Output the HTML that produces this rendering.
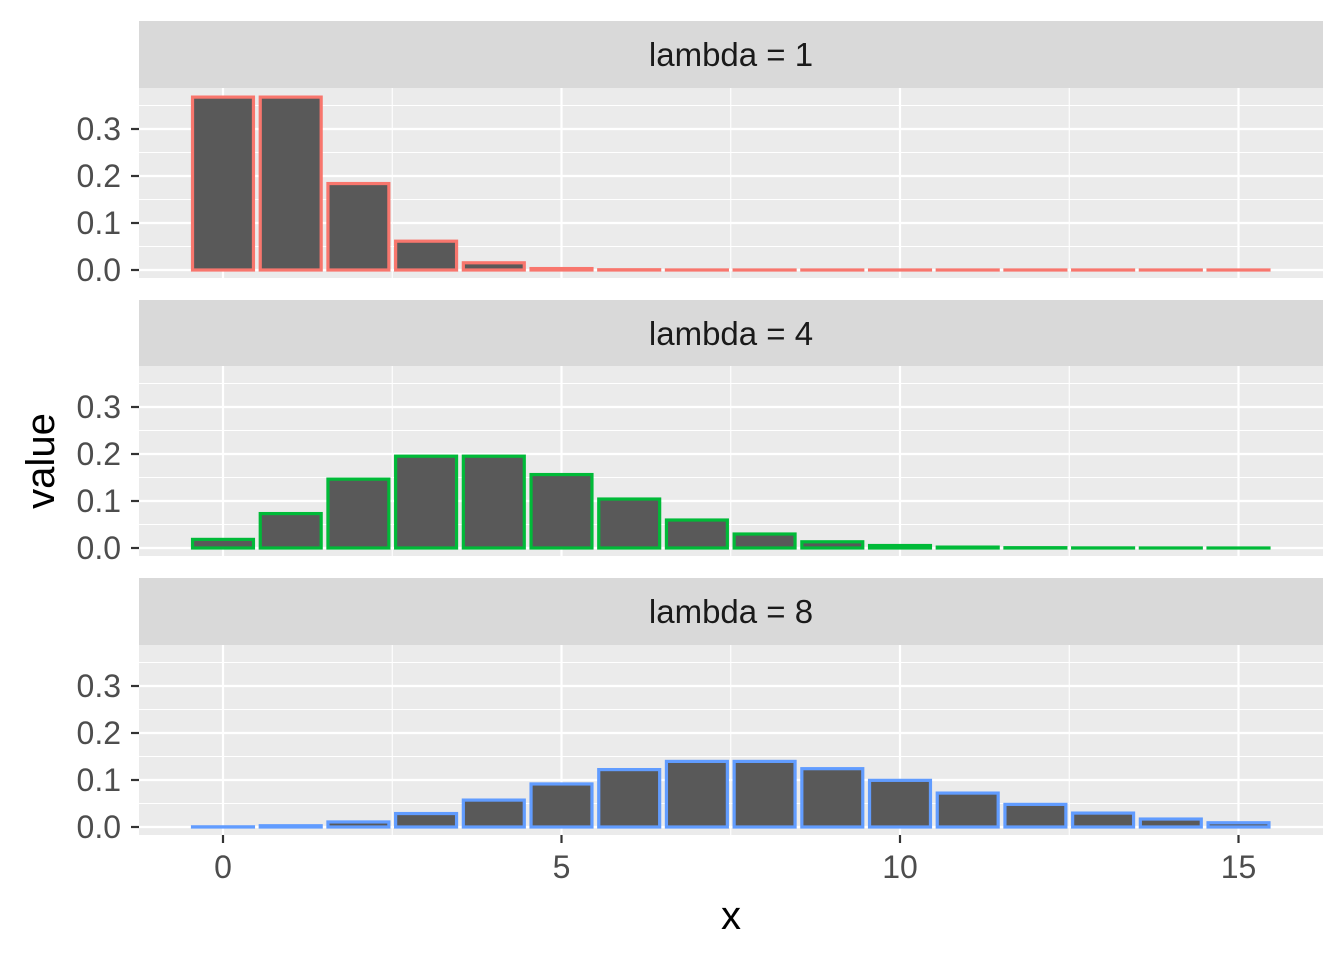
<!DOCTYPE html><html><head><style>body{margin:0;background:#fff}svg{display:block}</style></head><body>
<svg id="s" width="1344" height="960" xmlns="http://www.w3.org/2000/svg" font-family="Liberation Sans, sans-serif"></svg>
<script>
const s=document.getElementById('s');let h='';
const X=v=>223+v*67.7;
const panels=[{l:1,c:'#F8766D',st:21,top:88,z:270},{l:4,c:'#00BA38',st:300,top:366,z:548},{l:8,c:'#619CFF',st:578,top:645,z:827}];
function pois(l,k){let p=Math.exp(-l);for(let i=1;i<=k;i++)p*=l/i;return p;}
for(const P of panels){
 const bot=P.z+8;
 h+=`<rect x="139" y="${P.st}" width="1184" height="${P.top-P.st}" fill="#D9D9D9"/>`;
 h+=`<text x="731" y="${P.st+45}" font-size="33" text-anchor="middle" fill="#1A1A1A">lambda = ${P.l}</text>`;
 h+=`<rect x="139" y="${P.top}" width="1184" height="${bot-P.top}" fill="#EBEBEB"/>`;
 for(const v of [0.05,0.15,0.25,0.35]){const y=P.z-v*470;h+=`<line x1="139" x2="1323" y1="${y}" y2="${y}" stroke="#fff" stroke-width="1.1"/>`;}
 for(const v of [2.5,7.5,12.5]){h+=`<line x1="${X(v)}" x2="${X(v)}" y1="${P.top}" y2="${bot}" stroke="#fff" stroke-width="1.1"/>`;}
 for(const v of [0,0.1,0.2,0.3]){const y=P.z-v*470;h+=`<line x1="139" x2="1323" y1="${y}" y2="${y}" stroke="#fff" stroke-width="2.2"/>`;
  h+=`<line x1="131" x2="139" y1="${y}" y2="${y}" stroke="#333" stroke-width="2.2"/>`;
  h+=`<text x="121" y="${y+11}" font-size="32" text-anchor="end" fill="#4D4D4D">${v.toFixed(1)}</text>`;}
 for(const v of [0,5,10,15]){h+=`<line x1="${X(v)}" x2="${X(v)}" y1="${P.top}" y2="${bot}" stroke="#fff" stroke-width="2.2"/>`;}
 for(let k=0;k<=15;k++){const p=pois(P.l,k);const hh=Math.max(p*470,0.01);h+=`<rect x="${X(k-0.45).toFixed(2)}" y="${(P.z-hh).toFixed(3)}" width="${(0.9*67.7).toFixed(2)}" height="${hh.toFixed(3)}" fill="#595959" stroke="${P.c}" stroke-width="3.2"/>`;}
}
for(const v of [0,5,10,15]){h+=`<line x1="${X(v)}" x2="${X(v)}" y1="835" y2="843" stroke="#333" stroke-width="2.2"/><text x="${X(v)}" y="878" font-size="32" text-anchor="middle" fill="#4D4D4D">${v}</text>`;}
h+=`<text x="731" y="929" font-size="40" text-anchor="middle" fill="#000">x</text>`;
h+=`<text transform="translate(54,461) rotate(-90)" font-size="40" text-anchor="middle" fill="#000">value</text>`;
s.innerHTML=h;
</script></body></html>
